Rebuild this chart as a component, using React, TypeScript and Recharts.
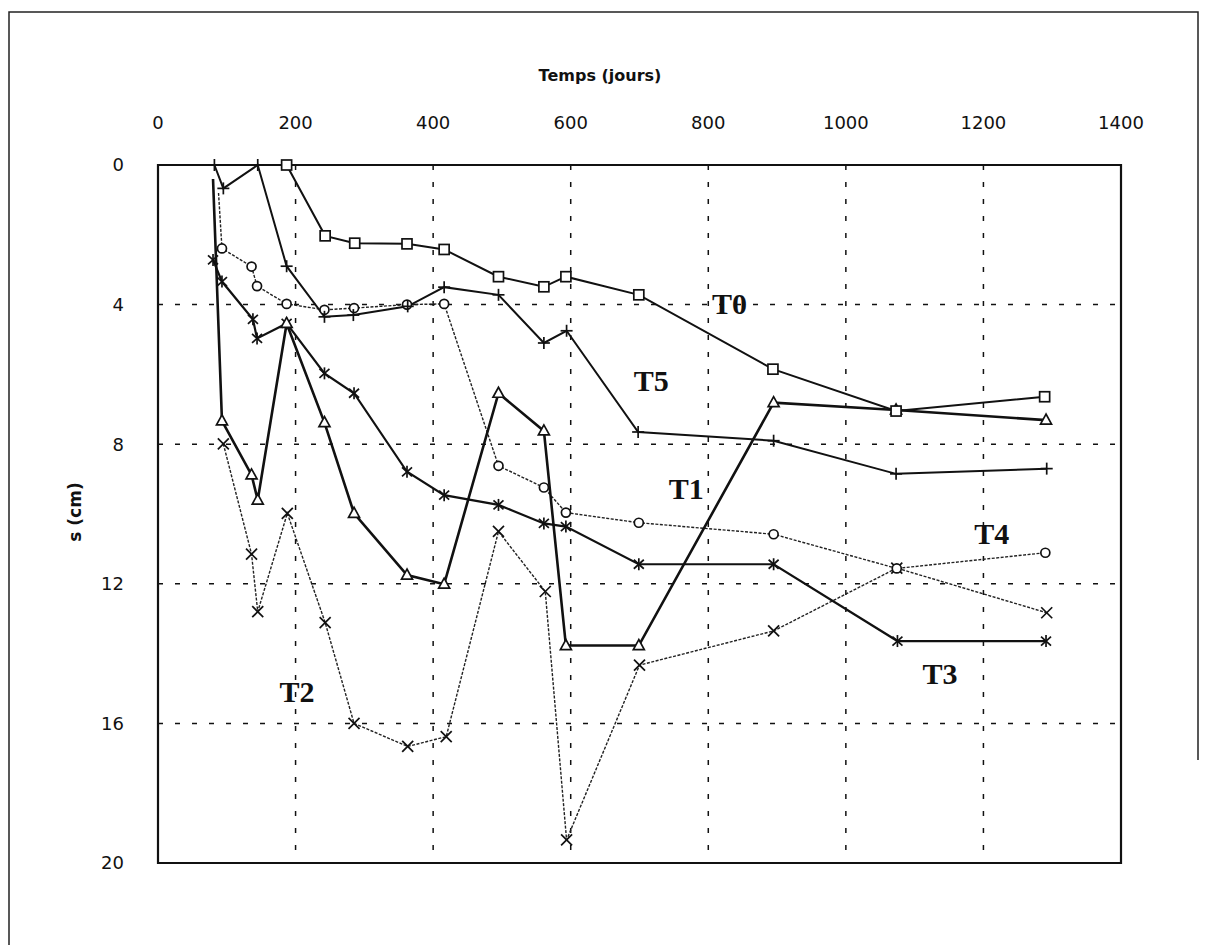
import React from 'react';
import { LineChart, Line, XAxis, YAxis, CartesianGrid, ReferenceArea, ReferenceDot } from 'recharts';

const t0Days = [187, 243, 286, 362, 416, 495, 561, 593, 699, 894, 1073, 1289];
const t0Values = [0, 2.03, 2.24, 2.26, 2.42, 3.2, 3.49, 3.2, 3.72, 5.85, 7.05, 6.64];

const t5Days = [82, 95, 145, 187, 242, 284, 363, 416, 495, 561, 594, 698, 895, 1073, 1292];
const t5Values = [0, 0.67, 0, 2.9, 4.35, 4.3, 4.05, 3.5, 3.72, 5.1, 4.75, 7.65, 7.9, 8.85, 8.7];

const t1Days = [80, 93, 136, 145, 187, 242, 285, 362, 416, 495, 561, 593, 699, 895, 1073, 1291];
const t1Values = [0.4, 7.33, 8.88, 9.6, 4.54, 7.38, 9.98, 11.75, 12.01, 6.54, 7.62, 13.77, 13.77, 6.81, 7.02, 7.31];

const t4Days = [88, 93, 136, 144, 187, 242, 285, 362, 416, 495, 561, 593, 699, 895, 1074, 1290];
const t4Values = [0.8, 2.39, 2.91, 3.47, 3.98, 4.15, 4.1, 4.0, 3.98, 8.62, 9.24, 9.96, 10.25, 10.58, 11.56, 11.11];

const t3Days = [80, 93, 138, 144, 187, 242, 285, 362, 416, 495, 561, 593, 699, 895, 1075, 1291];
const t3Values = [2.72, 3.34, 4.42, 4.97, 4.54, 5.97, 6.54, 8.79, 9.46, 9.74, 10.27, 10.36, 11.44, 11.44, 13.64, 13.64];

const t2Days = [95, 136, 145, 188, 243, 285, 363, 419, 495, 563, 594, 700, 895, 1074, 1292];
const t2Values = [7.99, 11.15, 12.8, 9.98, 13.11, 16.0, 16.66, 16.38, 10.5, 12.22, 19.34, 14.33, 13.35, 11.55, 12.83];

const xTicks = [0, 200, 400, 600, 800, 1000, 1200, 1400];
const yTicks = [0, 4, 8, 12, 16, 20];

// étiquettes des courbes (position en jours / cm)
const curveLabels = [
  { name: 'T0', day: 831, s: 3.96 },
  { name: 'T5', day: 717, s: 6.16 },
  { name: 'T1', day: 768, s: 9.27 },
  { name: 'T4', day: 1212, s: 10.55 },
  { name: 'T3', day: 1137, s: 14.56 },
  { name: 'T2', day: 202, s: 15.09 },
];

const toRows = (days: number[], values: number[]) => days.map((d, i) => ({ day: d, s: values[i] }));

type Kind = 'square' | 'plus' | 'triangle' | 'circle' | 'star' | 'cross';

function Marker({ cx, cy, kind }: { cx: number; cy: number; kind: Kind }) {
  const st = { stroke: '#111', strokeWidth: 1.7, fill: '#fff' };
  if (cx == null || cy == null) return null;
  switch (kind) {
    case 'square':
      return <rect x={cx - 5} y={cy - 5} width={10} height={10} {...st} />;
    case 'circle':
      return <circle cx={cx} cy={cy} r={4.5} {...st} />;
    case 'triangle':
      return <polygon points={`${cx},${cy - 6} ${cx - 5.5},${cy + 4} ${cx + 5.5},${cy + 4}`} {...st} />;
    case 'plus':
      return (
        <g stroke="#111" strokeWidth={1.7}>
          <line x1={cx - 6} y1={cy} x2={cx + 6} y2={cy} />
          <line x1={cx} y1={cy - 6} x2={cx} y2={cy + 6} />
        </g>
      );
    case 'cross':
      return (
        <g stroke="#111" strokeWidth={1.7}>
          <line x1={cx - 5.5} y1={cy - 5.5} x2={cx + 5.5} y2={cy + 5.5} />
          <line x1={cx - 5.5} y1={cy + 5.5} x2={cx + 5.5} y2={cy - 5.5} />
        </g>
      );
    case 'star':
      return (
        <g stroke="#111" strokeWidth={1.7}>
          <line x1={cx - 5} y1={cy - 4.5} x2={cx + 5} y2={cy + 4.5} />
          <line x1={cx - 5} y1={cy + 4.5} x2={cx + 5} y2={cy - 4.5} />
          <line x1={cx} y1={cy - 6} x2={cx} y2={cy + 6} />
        </g>
      );
  }
  return null;
}

// hideFirst: premier point caché sous d'autres marques dans l'original
const dotFor = (kind: Kind, name: string, hideFirst = false) => (props: any) =>
  hideFirst && props.index === 0 ? (
    <g key={`${name}-${props.index}`} />
  ) : (
    <Marker key={`${name}-${props.index}`} cx={props.cx} cy={props.cy} kind={kind} />
  );

const tickFont = { fontFamily: 'DejaVu Sans', fontSize: 18, fill: '#111' };

export default function App() {
  return (
    <div style={{ position: 'absolute', left: 0, top: 0, width: 1209, height: 945, background: '#fff' }}>
      <svg width={1209} height={945} style={{ position: 'absolute', left: 0, top: 0 }}>
        <polyline points="9,945 9,12 1198,12 1198,760" fill="none" stroke="#222" strokeWidth={1.5} />
        <text x={600} y={81} textAnchor="middle" fontFamily="DejaVu Sans" fontWeight="bold" fontSize={16} fill="#111">
          Temps (jours)
        </text>
        <text
          x={81}
          y={512}
          transform="rotate(-90 81 512)"
          textAnchor="middle"
          fontFamily="DejaVu Sans"
          fontWeight="bold"
          fontSize={17}
          fill="#111"
        >
          s (cm)
        </text>
      </svg>
      <div style={{ position: 'absolute', left: 0, top: 0 }}>
        <LineChart width={1209} height={945} margin={{ top: 125, right: 88, bottom: 82, left: 98 }}>
          <CartesianGrid stroke="#111" strokeWidth={1.5} strokeDasharray="5 12" />
          <XAxis
            type="number"
            dataKey="day"
            orientation="top"
            domain={[0, 1400]}
            ticks={xTicks}
            height={40}
            axisLine={false}
            tickLine={false}
            tickMargin={30}
            tick={tickFont}
            allowDuplicatedCategory={false}
          />
          <YAxis
            type="number"
            dataKey="s"
            domain={[0, 20]}
            ticks={yTicks}
            reversed
            width={60}
            axisLine={false}
            tickLine={false}
            tickMargin={28}
            tick={tickFont}
          />
          <ReferenceArea x1={0} x2={1400} y1={0} y2={20} fill="none" stroke="#111" strokeWidth={2.2} />
          <Line data={toRows(t2Days, t2Values)} dataKey="s" name="T2" stroke="#222" strokeWidth={1.4} strokeDasharray="3 1.5" dot={dotFor('cross', 't2')} isAnimationActive={false} />
          <Line data={toRows(t4Days, t4Values)} dataKey="s" name="T4" stroke="#222" strokeWidth={1.4} strokeDasharray="3 1.5" dot={dotFor('circle', 't4', true)} isAnimationActive={false} />
          <Line data={toRows(t3Days, t3Values)} dataKey="s" name="T3" stroke="#111" strokeWidth={2.2} dot={dotFor('star', 't3')} isAnimationActive={false} />
          <Line data={toRows(t1Days, t1Values)} dataKey="s" name="T1" stroke="#111" strokeWidth={2.6} dot={dotFor('triangle', 't1', true)} isAnimationActive={false} />
          <Line data={toRows(t5Days, t5Values)} dataKey="s" name="T5" stroke="#111" strokeWidth={2} dot={dotFor('plus', 't5')} isAnimationActive={false} />
          <Line data={toRows(t0Days, t0Values)} dataKey="s" name="T0" stroke="#111" strokeWidth={2} dot={dotFor('square', 't0')} isAnimationActive={false} />
          {curveLabels.map((l) => (
            <ReferenceDot
              key={l.name}
              x={l.day}
              y={l.s}
              r={0}
              fill="none"
              stroke="none"
              label={{
                value: l.name,
                position: 'center',
                fontFamily: 'Liberation Serif',
                fontWeight: 'bold',
                fontSize: 30,
                fill: '#111',
              }}
            />
          ))}
        </LineChart>
      </div>
    </div>
  );
}
